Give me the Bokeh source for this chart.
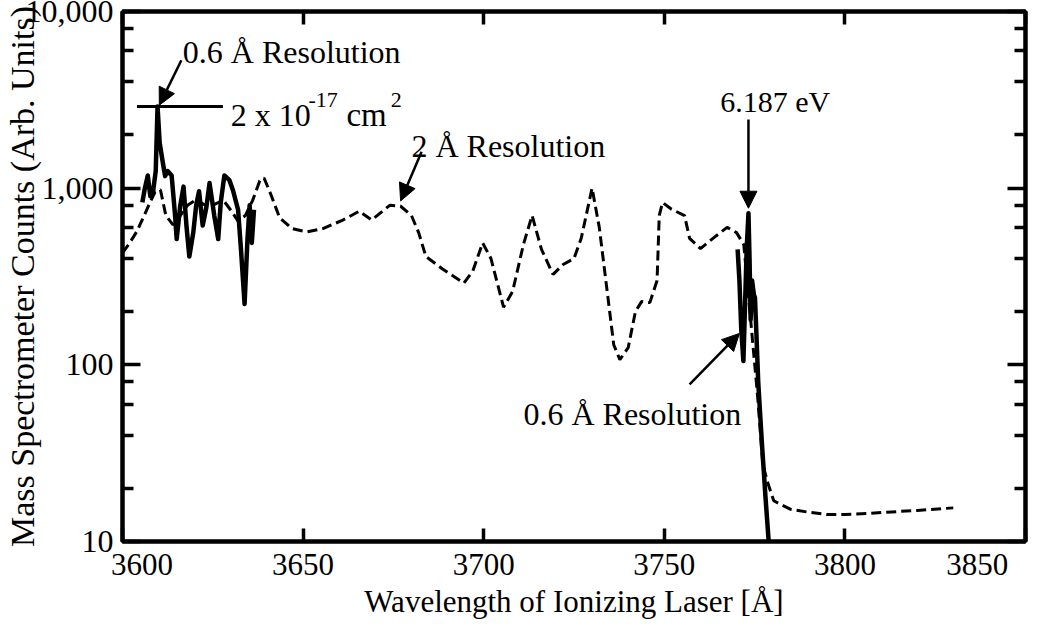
from bokeh.plotting import figure
from bokeh.models import (FixedTicker, NumeralTickFormatter, LinearAxis, LogAxis,
                          Label, Arrow, NormalHead, CustomJSTickFormatter)
from bokeh.embed import file_html
from bokeh.resources import INLINE

# ---------------- data ----------------
x_ticks = [3600, 3650, 3700, 3750, 3800, 3850]
y_ticks = [10, 100, 1000, 10000]
y_minor = [20, 40, 60, 80, 200, 400, 600, 800, 2000, 4000, 6000, 8000]

# 2 A resolution scan (dashed)
dashed_x = [3600, 3602, 3604, 3606, 3607.5, 3609, 3610.5, 3612, 3614, 3616,
            3618, 3620, 3622, 3624, 3626, 3628, 3630, 3632, 3634, 3636,
            3638, 3639.2, 3641, 3643.5, 3647, 3651, 3655.5, 3661, 3665.5, 3669,
            3674, 3677, 3680, 3682, 3684, 3688.5, 3694.5, 3697, 3699.7, 3702,
            3705.5, 3708, 3711, 3713.4, 3716, 3719.2, 3722, 3725, 3727, 3730,
            3732, 3734.4, 3736, 3737.7, 3740, 3742, 3743.7, 3746, 3748, 3748.6,
            3749.5, 3752, 3755.6, 3757, 3760, 3764, 3767.4, 3770, 3772, 3773.8,
            3775.9, 3777.3, 3778.8, 3780.3, 3782, 3785, 3789.5, 3795, 3800, 3806,
            3813, 3820, 3830]
dashed_y = [430, 490, 570, 700, 820, 950, 980, 700, 620, 700,
            800, 850, 820, 780, 820, 850, 750, 650, 700, 850,
            1100, 1140, 930, 680, 590, 565, 590, 660, 740, 660,
            800, 790, 700, 560, 410, 350, 290, 340, 490, 400,
            212, 260, 480, 700, 450, 325, 370, 400, 520, 1000,
            600, 240, 130, 107, 125, 200, 228, 225, 300, 700,
            830, 760, 700, 520, 455, 530, 600, 560, 480, 190,
            64, 27, 21, 17, 16.3, 15.2, 14.7, 14.2, 14.2, 14.4,
            14.7, 15.0, 15.5]

# 0.6 A resolution scans (solid)
solid_left_x = [3605.5, 3606.2, 3607, 3607.7, 3608.4, 3609.2, 3609.7, 3610.3, 3611.2, 3611.8,
                3612.5, 3613.6, 3614.5, 3615.0, 3616.0, 3616.9, 3617.7, 3618.5, 3619.6, 3620.4,
                3621.2, 3622.2, 3623.2, 3624.1, 3625.4, 3626.5, 3627.2, 3628.2, 3629.6, 3630.6,
                3632.0, 3632.8, 3633.8, 3634.6, 3635.2, 3635.8, 3636.4]
solid_left_y = [830, 1000, 1180, 900, 935, 1250, 2900, 1800, 1380, 1170,
                1250, 1180, 725, 515, 800, 1020, 615, 410, 562, 800,
                960, 615, 775, 1070, 700, 515, 830, 1180, 1110, 970,
                755, 450, 221, 515, 800, 490, 755]

solid_right_x = [3770.3, 3770.8, 3771.3, 3771.9, 3772.3, 3772.8, 3773.3, 3773.6, 3773.9, 3774.3,
                 3774.8, 3775.1, 3775.5, 3776.0, 3776.6, 3777.1, 3777.6, 3778.0, 3778.5, 3778.9]
solid_right_y = [450, 300, 160, 105, 200, 450, 720, 400, 180, 300,
                 250, 240, 150, 80, 50, 34, 24, 18, 13, 10]

peak_value = 2900
peak_marker_x = [3604.0, 3627.8]

FONT = "Liberation Serif"
FS = "31px"
AFS = "32px"
NB = "\u00a0"

p = figure(width=1031, height=621, x_range=(3600, 3850), y_range=(10, 10000),
           y_axis_type="log", output_backend="svg", toolbar_location=None,
           min_border_left=117, min_border_right=6, min_border_top=11,
           min_border_bottom=74, background_fill_color="white",
           border_fill_color="white")
p.grid.visible = False
p.outline_line_color = "black"
p.outline_line_width = 4

# curves
p.line(dashed_x, dashed_y, line_color="black", line_width=3, line_dash="10 5")
p.line(solid_left_x, solid_left_y, line_color="black", line_width=4.5,
       line_join="round")
p.line(solid_right_x, solid_right_y, line_color="black", line_width=4.5,
       line_join="round")
p.line(peak_marker_x, [peak_value, peak_value], line_color="black", line_width=3)

# axes
xa = p.xaxis[0]
xa.ticker = FixedTicker(ticks=x_ticks)
xa.major_label_overrides = {3600: NB * 5 + "3600", 3850: "3850" + NB * 3}
xa.major_tick_in = 13
xa.major_tick_out = 0
xa.minor_tick_in = 0
xa.minor_tick_out = 0
xa.major_tick_line_width = 3.5
xa.axis_line_width = 4
xa.major_label_text_font = FONT
xa.major_label_text_font_size = FS
xa.major_label_text_color = "black"
xa.major_label_standoff = 5
xa.axis_label = "Wavelength of Ionizing Laser [Å]"
xa.axis_label_text_font = FONT
xa.axis_label_text_font_size = FS
xa.axis_label_text_font_style = "normal"
xa.axis_label_text_color = "black"
xa.axis_label_standoff = -1

ya = p.yaxis[0]
ya.ticker = FixedTicker(ticks=y_ticks, minor_ticks=y_minor)
ya.formatter = NumeralTickFormatter(format="0,0")
ya.major_tick_in = 18
ya.major_tick_out = 0
ya.minor_tick_in = 11
ya.minor_tick_out = 0
ya.major_tick_line_width = 3.5
ya.minor_tick_line_width = 3.5
ya.axis_line_width = 4
ya.major_label_text_font = FONT
ya.major_label_text_font_size = "32px"
ya.major_label_text_color = "black"
ya.major_label_standoff = 9
ya.axis_label = "Mass Spectrometer Counts (Arb. Units)"
ya.axis_label_text_font = FONT
ya.axis_label_text_font_size = "34px"
ya.axis_label_text_font_style = "normal"
ya.axis_label_text_color = "black"
ya.axis_label_standoff = -18

blank = CustomJSTickFormatter(code="return '';")
top = LinearAxis(ticker=FixedTicker(ticks=x_ticks), formatter=blank,
                 major_tick_in=13, major_tick_out=0,
                 minor_tick_in=0, minor_tick_out=0, major_tick_line_width=3.5,
                 axis_line_width=4, major_label_standoff=0)
p.add_layout(top, "above")
right = LogAxis(ticker=FixedTicker(ticks=y_ticks, minor_ticks=y_minor), formatter=blank,
                major_tick_in=18, major_tick_out=0, minor_tick_in=11, minor_tick_out=0,
                major_tick_line_width=3.5, minor_tick_line_width=3.5,
                axis_line_width=4, major_label_standoff=0)
p.add_layout(right, "right")

# annotations
def lab(x, y, text, size=AFS):
    p.add_layout(Label(x=x, y=y, text=text, text_font=FONT, text_font_size=size,
                       text_color="black", text_align="left",
                       text_baseline="alphabetic"))

def arr(x0, y0, x1, y1):
    p.add_layout(Arrow(end=NormalHead(size=17, fill_color="black", line_color="black",
                                      line_width=1),
                       x_start=x0, y_start=y0, x_end=x1, y_end=y1,
                       line_color="black", line_width=2.5))

lab(3616.7, 5900, "0.6 Å Resolution")
arr(3616.3, 5300, 3610.2, 2950)
lab(3630.0, 2611, "2 x 10")
lab(3651.5, 3150, "-17", "22px")
lab(3662.0, 2611, "cm", "33px")
lab(3674.3, 3150, "2", "22px")
lab(3680.0, 1734, "2 Å Resolution")
arr(3682.8, 1606, 3677.0, 847)
lab(3765.5, 3085, "6.187 eV", "30px")
arr(3773.3, 2450, 3773.3, 770)
lab(3711.0, 52.7, "0.6 Å Resolution")
arr(3757.0, 77.4, 3770.8, 150.6)

open("out.html", "w").write(file_html(p, INLINE))
